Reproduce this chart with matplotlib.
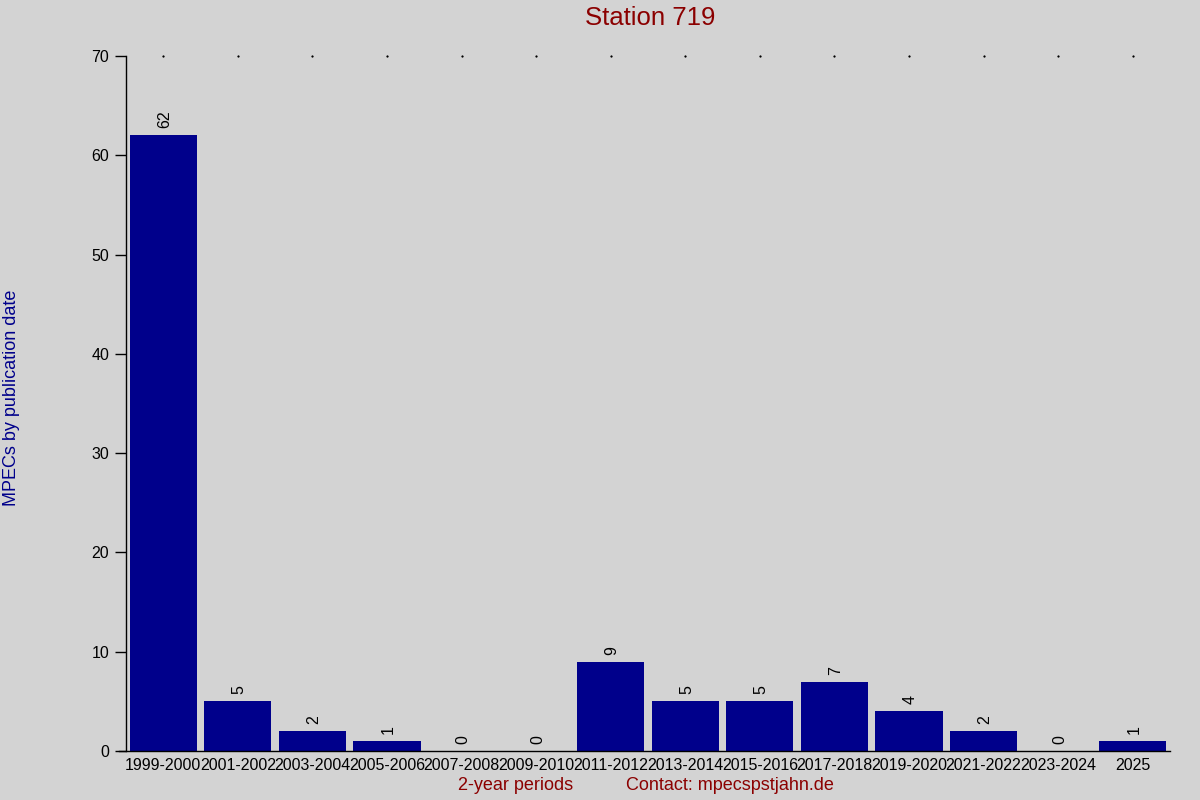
import matplotlib
matplotlib.use("Agg")
import matplotlib.pyplot as plt
import numpy as np

periods = ["1999-2000", "2001-2002", "2003-2004", "2005-2006", "2007-2008",
           "2009-2010", "2011-2012", "2013-2014", "2015-2016", "2017-2018",
           "2019-2020", "2021-2022", "2023-2024", "2025"]
counts = [62, 5, 2, 1, 0, 0, 9, 5, 5, 7, 4, 2, 0, 1]
yticks = [0, 10, 20, 30, 40, 50, 60, 70]

plt.rcParams['font.family'] = ['Liberation Sans', 'DejaVu Sans']

bg = "#D3D3D3"
fig = plt.figure(figsize=(12, 8), dpi=100, facecolor=bg)
ax = fig.add_axes([0.105, 0.06125, 0.87, 0.86875], facecolor=bg)

x = np.arange(len(periods))
ax.bar(x, counts, width=0.9, color="#00008B")
for xi, c in zip(x, counts):
    ax.annotate(str(c), (xi, c), xytext=(1, 5), textcoords="offset points",
                rotation=90, ha="center", va="bottom", fontsize=11.5, color="black")

# small dots along the top
ax.plot(x, [70] * len(x), linestyle="none", marker="s", markersize=0.6,
        color="black", clip_on=False)

ax.set_xlim(-0.5, len(periods) - 0.5)
ax.set_ylim(0, 70)
ax.set_yticks(yticks)
ax.set_yticklabels([str(t) for t in yticks], fontsize=11.5)
ax.set_xticks(x)
ax.set_xticklabels(periods, fontsize=11.5)
ax.tick_params(axis="x", length=0, pad=5)
ax.tick_params(axis="y", length=8, width=1, pad=4)
for s in ["top", "right"]:
    ax.spines[s].set_visible(False)
ax.spines["left"].set_linewidth(1)
ax.spines["bottom"].set_linewidth(1)
ax.spines["bottom"].set_bounds(-0.6, len(periods) - 0.5)

fig.text(0.5416, 0.978, "Station 719", ha="center", va="center",
         fontsize=18.5, color="#8B0000")
fig.text(0.0095, 0.503, "MPECs by publication date", rotation=90,
         ha="center", va="center", fontsize=13, color="#00008B")
fig.text(0.43, 0.0175, "2-year periods", ha="center", va="center",
         fontsize=13, color="#8B0000")
fig.text(0.522, 0.0175, "Contact: mpecspstjahn.de", ha="left", va="center",
         fontsize=13, color="#8B0000")

fig.savefig("out.png", dpi=100, facecolor=bg)
